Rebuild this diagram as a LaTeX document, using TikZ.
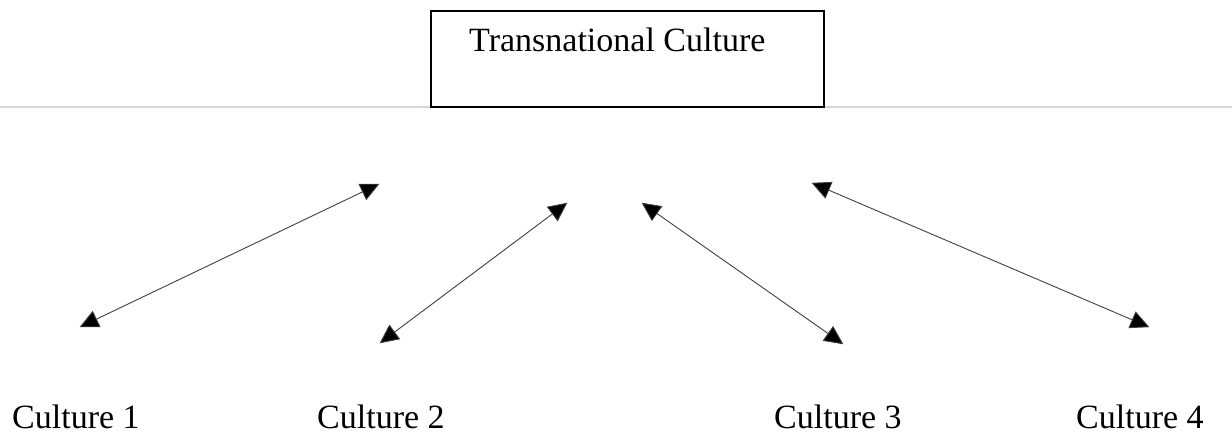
\documentclass[tikz,border=0pt]{standalone}
\usepackage{fontspec}
\setmainfont{Liberation Serif}
\usetikzlibrary{arrows.meta}
\definecolor{rulegray}{HTML}{D3D9DF}
\definecolor{linkgray}{HTML}{404040}
\tikzset{
  label text/.style={font=\fontsize{34}{40}\selectfont, inner sep=0pt, anchor=base west},
  title box/.style={draw=black, line width=2.2pt, inner sep=0pt},
  link/.style={draw=linkgray, line width=0.9pt,
    {Triangle[length=19pt,width=18pt,fill=black]}-{Triangle[length=19pt,width=18pt,fill=black]},
    shorten <=-0.5pt, shorten >=-0.5pt},
}
\begin{document}
\begin{tikzpicture}[x=1pt,y=-1pt]
  \useasboundingbox (0,0) rectangle (1232,439);

  % thin rule across the page, behind the title box
  \coordinate (ruleL) at (0,107);
  \coordinate (ruleR) at (1232,107);
  \draw[rulegray, line width=1.2pt] (ruleL) -- (ruleR);

  % title box
  \node[title box, minimum width=393pt, minimum height=96pt] (tbox) at (627.5,59) {};
  \node[label text] (title) at (469,51) {Transnational Culture};

  % culture labels
  \node[label text] (c1) at (12,428) {Culture 1};
  \node[label text] (c2) at (317,428) {Culture 2};
  \node[label text] (c3) at (774,428) {Culture 3};
  \node[label text] (c4) at (1076,428) {Culture 4};

  % ends of the double-headed links
  \coordinate (l1a) at (80,327);   \coordinate (l1b) at (379,184);
  \coordinate (l2a) at (380,343);  \coordinate (l2b) at (567,203);
  \coordinate (l3a) at (642,203);  \coordinate (l3b) at (843,344);
  \coordinate (l4a) at (812,183);  \coordinate (l4b) at (1149,327);

  \draw[link] (l1a) -- (l1b);
  \draw[link] (l2a) -- (l2b);
  \draw[link] (l3a) -- (l3b);
  \draw[link] (l4a) -- (l4b);
\end{tikzpicture}
\end{document}
